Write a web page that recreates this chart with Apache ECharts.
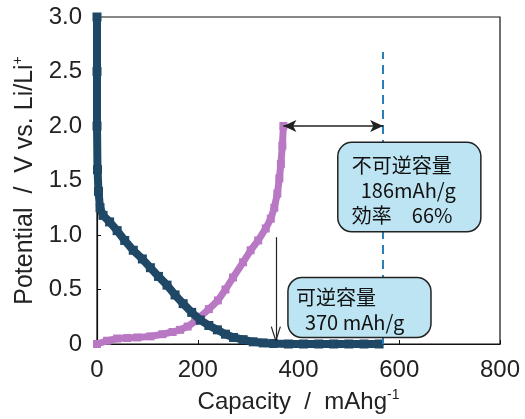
<!DOCTYPE html>
<html><head><meta charset="utf-8">
<script src="https://cdn.jsdelivr.net/npm/echarts@6/dist/echarts.min.js"></script>
<style>html,body{margin:0;padding:0;background:#fff}#c{width:525px;height:419px}</style>
</head><body><div id="c"></div>
<script>
const xTicks = [0, 200, 400, 600, 800];
const yTicks = [0, 0.5, 1.0, 1.5, 2.0, 2.5, 3.0];
const dischargeCap = [0,0,0,1,3,6,12,25,40,55,72,90,106,122,139,155,171,188,205,222,239,255,271,290,310,330,350,380,410,440,470,500,530,560];
const dischargeV   = [3.0,2.5,2.0,1.6,1.4,1.25,1.18,1.12,1.04,0.95,0.86,0.78,0.70,0.62,0.54,0.45,0.37,0.29,0.22,0.17,0.13,0.09,0.06,0.04,0.02,0.01,0.005,0,0,0,0,0,0,0];
const chargeCap = [0,20,40,60,80,106,130,150,165,180,195,205,222,240,255,270,290,305,320,335,345,352,358,362,365,368,370];
const chargeV   = [0,0.03,0.05,0.055,0.06,0.07,0.09,0.11,0.13,0.16,0.21,0.25,0.32,0.40,0.50,0.61,0.75,0.86,0.95,1.06,1.15,1.25,1.38,1.52,1.65,1.82,2.0];
const irrevCapLine = 568;
const arrowCap = 355;
const box1Lines = ['不可逆容量', '  186mAh/g', '効率　66%'];
const box2Lines = ['可逆容量', '  370 mAh/g'];

const chart = echarts.init(document.getElementById('c'));
const dark = '#1f4866', purple = '#b978c4';
const zip = (a,b)=>a.map((v,i)=>[v,b[i]]);
const supStyle = {fontSize:14,verticalAlign:'top',padding:[0,0,14,0],color:'#222',fontFamily:'Liberation Sans'};
const blk = {color:'#222',width:1.2,type:'solid'};
chart.setOption({
  animation:false,
  grid:{left:97,right:25,top:17,bottom:75,show:true,borderColor:'#111',borderWidth:1.2,outerBoundsMode:'none',containLabel:false},
  xAxis:{type:'value',min:0,max:800,interval:200,
    name:'Capacity  /  mAhg{sup|-1}',nameLocation:'middle',nameGap:44,
    nameTextStyle:{fontFamily:'Liberation Sans',fontSize:24,color:'#222',rich:{sup:supStyle}},
    axisLine:{lineStyle:{color:'#111',width:1.2}},
    axisTick:{inside:true,length:4,lineStyle:{color:'#111'}},
    axisLabel:{fontFamily:'Liberation Sans',fontSize:24,color:'#222',margin:14},
    splitLine:{show:false}},
  yAxis:{type:'value',min:0,max:3,interval:0.5,
    name:'Potential  /  V vs. Li/Li{sup|+}',nameLocation:'middle',nameGap:58,
    nameTextStyle:{fontFamily:'Liberation Sans',fontSize:25,color:'#222',rich:{sup:supStyle}},
    axisLine:{lineStyle:{color:'#111',width:1.2}},
    axisTick:{inside:true,length:4,lineStyle:{color:'#111'}},
    axisLabel:{fontFamily:'Liberation Sans',fontSize:24,color:'#222',margin:15,
      formatter:v=>v===0?'0':v.toFixed(1)},
    splitLine:{show:false}},
  series:[
    {type:'line',data:zip(chargeCap,chargeV),symbol:'rect',symbolSize:8,showSymbol:true,
      lineStyle:{color:purple,width:7},itemStyle:{color:purple},z:3},
    {type:'line',data:zip(dischargeCap,dischargeV),symbol:'rect',symbolSize:9,showSymbol:true,
      lineStyle:{color:dark,width:8},itemStyle:{color:dark},z:4},
    {type:'line',data:[],z:6,
      markLine:{silent:true,animation:false,label:{show:false},symbol:['none','none'],z:6,
        data:[
          [{coord:[irrevCapLine,0],lineStyle:{color:'#2a7fb8',width:2,type:[9,6]}},{coord:[irrevCapLine,2.68]}],
          [{coord:[370,2.0],symbol:'arrow',symbolSize:[9,13],lineStyle:{color:'#222',width:1.5,type:'solid'}},{coord:[irrevCapLine,2.0],symbol:'arrow',symbolSize:[9,13]}],
          [{coord:[arrowCap,0.98],lineStyle:blk},{coord:[arrowCap,0.03]}],
          [{coord:[arrowCap-9,0.16],lineStyle:blk},{coord:[arrowCap,0.03]}],
          [{coord:[arrowCap+9,0.16],lineStyle:blk},{coord:[arrowCap,0.03]}]
        ]}}
  ]
});

function box(x0,y0,x1,y1,lines,lineH,textX,firstY){
  const p0 = chart.convertToPixel({gridIndex:0},[x0,y0]);
  const p1 = chart.convertToPixel({gridIndex:0},[x1,y1]);
  const els = [{type:'rect',shape:{x:p0[0],y:p0[1],width:p1[0]-p0[0],height:p1[1]-p0[1],r:14},
    style:{fill:'#bde4f2',stroke:'#222',lineWidth:1.5},z:10}];
  lines.forEach((t,i)=>{
    els.push({type:'text',x:p0[0]+textX,y:p0[1]+firstY+i*lineH,z:11,
      style:{text:t,fill:'#111',font:'20px "Noto Sans CJK JP"',textVerticalAlign:'middle'}});
  });
  return els;
}
chart.setOption({graphic:[
  ...box(478,1.85,762,1.03,box1Lines,25,14,23),
  ...box(379,0.61,663,0.06,box2Lines,25,8,20)
]});
</script></body></html>
